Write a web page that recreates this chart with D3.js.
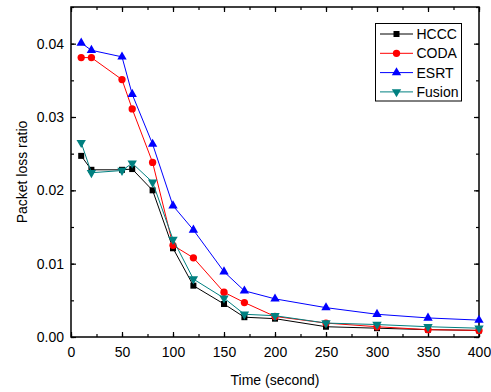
<html>
<head>
<script src="https://d3js.org/d3.v7.min.js"></script>
<style>
  body { margin: 0; background: #fff; }
  text { font-family: "Liberation Sans", Arial, sans-serif; }
</style>
</head>
<body>
<div id="chart"></div>
<script>
var width = 491, height = 392;
var margin = {top: 7, right: 12, bottom: 55, left: 71};

var times = [10, 20, 50, 60, 80, 100, 120, 150, 170, 200, 250, 300, 350, 400];
var hccc   = [0.0247, 0.0228, 0.0228, 0.0229, 0.0200, 0.0121, 0.0070, 0.0045, 0.0027, 0.0025, 0.0014, 0.0012, 0.0010, 0.0009];
var coda   = [0.0381, 0.0381, 0.0351, 0.0311, 0.0238, 0.0125, 0.0108, 0.0061, 0.0047, 0.0028, 0.0019, 0.0014, 0.0010, 0.0009];
var esrt   = [0.0401, 0.0391, 0.0382, 0.0331, 0.0263, 0.0179, 0.0146, 0.0089, 0.0063, 0.0052, 0.0040, 0.0031, 0.0026, 0.0023];
var fusion = [0.0265, 0.0224, 0.0227, 0.0237, 0.0211, 0.0133, 0.0079, 0.0053, 0.0031, 0.0029, 0.0019, 0.0017, 0.0014, 0.0012];

var xTicks = [0, 50, 100, 150, 200, 250, 300, 350, 400];
var yTicks = [0.00, 0.01, 0.02, 0.03, 0.04];

var series = [
  {name: "HCCC",   values: hccc,   color: "#000000", symbol: d3.symbolSquare,   size: 36, rot: 0},
  {name: "CODA",   values: coda,   color: "#ff0000", symbol: d3.symbolCircle,   size: 42, rot: 0},
  {name: "ESRT",   values: esrt,   color: "#0000ff", symbol: d3.symbolTriangle, size: 38, rot: 0},
  {name: "Fusion", values: fusion, color: "#008080", symbol: d3.symbolTriangle, size: 38, rot: 180}
];

var svg = d3.select("#chart").append("svg")
    .attr("width", width)
    .attr("height", height);

var w = width - margin.left - margin.right,
    h = height - margin.top - margin.bottom;

var x = d3.scaleLinear().domain([0, 400]).range([margin.left, margin.left + w]);
var y = d3.scaleLinear().domain([0, 0.045]).range([margin.top + h, margin.top]);

// minor ticks
var xMinor = d3.range(0, 401, 25);
var yMinor = d3.range(0, 0.0451, 0.005);

function tickStyle(g){
  g.select(".domain").remove();
  g.selectAll("line").attr("stroke", "#000").attr("stroke-width", 1.2);
}

// bottom
svg.append("g").attr("transform", "translate(0," + y(0) + ")")
  .call(d3.axisBottom(x).tickValues(xMinor).tickSize(-3).tickFormat(""))
  .call(tickStyle);
svg.append("g").attr("transform", "translate(0," + y(0) + ")")
  .call(d3.axisBottom(x).tickValues(xTicks).tickSize(-5).tickPadding(10).tickFormat(d3.format("d")))
  .call(tickStyle)
  .selectAll("text").attr("font-size", 14).attr("fill", "#000");
// top
svg.append("g").attr("transform", "translate(0," + margin.top + ")")
  .call(d3.axisTop(x).tickValues(xMinor).tickSize(-3).tickFormat(""))
  .call(tickStyle);
svg.append("g").attr("transform", "translate(0," + margin.top + ")")
  .call(d3.axisTop(x).tickValues(xTicks).tickSize(-5).tickFormat(""))
  .call(tickStyle);
// left
svg.append("g").attr("transform", "translate(" + margin.left + ",0)")
  .call(d3.axisLeft(y).tickValues(yMinor).tickSize(-3).tickFormat(""))
  .call(tickStyle);
svg.append("g").attr("transform", "translate(" + margin.left + ",0)")
  .call(d3.axisLeft(y).tickValues(yTicks).tickSize(-5).tickPadding(7).tickFormat(d3.format(".2f")))
  .call(tickStyle)
  .selectAll("text").attr("font-size", 14).attr("fill", "#000");
// right
svg.append("g").attr("transform", "translate(" + (margin.left + w) + ",0)")
  .call(d3.axisRight(y).tickValues(yMinor).tickSize(-3).tickFormat(""))
  .call(tickStyle);
svg.append("g").attr("transform", "translate(" + (margin.left + w) + ",0)")
  .call(d3.axisRight(y).tickValues(yTicks).tickSize(-5).tickFormat(""))
  .call(tickStyle);

svg.append("rect")
  .attr("x", margin.left).attr("y", margin.top)
  .attr("width", w).attr("height", h)
  .attr("fill", "none").attr("stroke", "#000").attr("stroke-width", 1.5);

var line = d3.line()
  .x(function(d, i){ return x(times[i]); })
  .y(function(d){ return y(d); });

series.forEach(function(s){
  svg.append("path")
    .attr("d", line(s.values))
    .attr("fill", "none")
    .attr("stroke", s.color)
    .attr("stroke-width", 1);
  var sym = d3.symbol().type(s.symbol).size(s.size);
  svg.selectAll(null).data(s.values).enter().append("path")
    .attr("d", sym)
    .attr("fill", s.color)
    .attr("transform", function(d, i){
      return "translate(" + x(times[i]) + "," + y(d) + ") rotate(" + s.rot + ")";
    });
});

// legend
var lg = svg.append("g");
lg.append("rect")
  .attr("x", 375.5).attr("y", 23.5)
  .attr("width", 86).attr("height", 77.5)
  .attr("fill", "#fff").attr("stroke", "#000").attr("stroke-width", 1);
series.forEach(function(s, i){
  var ly = 34 + i * 19.3;
  lg.append("line")
    .attr("x1", 380).attr("x2", 413)
    .attr("y1", ly).attr("y2", ly)
    .attr("stroke", s.color).attr("stroke-width", 1);
  lg.append("path")
    .attr("d", d3.symbol().type(s.symbol).size(s.size))
    .attr("fill", s.color)
    .attr("transform", "translate(396.5," + ly + ") rotate(" + s.rot + ")");
  lg.append("text")
    .attr("x", 416.5).attr("y", ly + 5)
    .attr("font-size", 14)
    .text(s.name);
});

svg.append("text")
  .attr("x", margin.left + w / 2).attr("y", 385)
  .attr("text-anchor", "middle")
  .attr("font-size", 14)
  .text("Time (second)");

svg.append("text")
  .attr("transform", "translate(27," + (margin.top + h / 2) + ") rotate(-90)")
  .attr("text-anchor", "middle")
  .attr("font-size", 14)
  .text("Packet loss ratio");
</script>
</body>
</html>
